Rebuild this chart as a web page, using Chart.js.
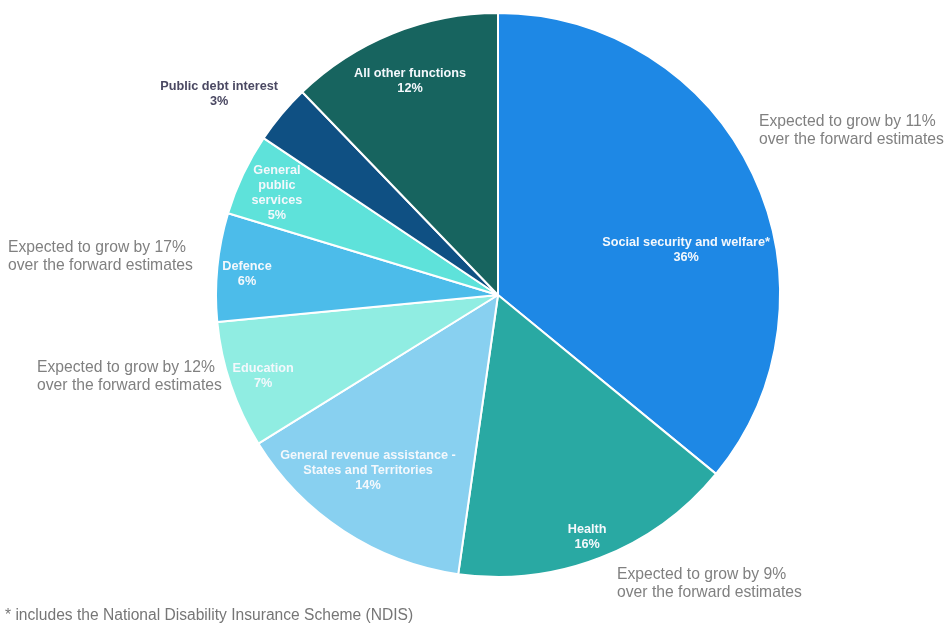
<!DOCTYPE html>
<html>
<head>
<meta charset="utf-8">
<script src="https://cdn.jsdelivr.net/npm/chart.js@4/dist/chart.umd.min.js"></script>
<style>
html,body{margin:0;padding:0;background:#fff;}
#wrap{position:relative;width:947px;height:625px;}
</style>
</head>
<body>
<div id="wrap"><canvas id="c" width="947" height="625"></canvas></div>
<script>
const categories = [
  "Social security and welfare*",
  "Health",
  "General revenue assistance - States and Territories",
  "Education",
  "Defence",
  "General public services",
  "Public debt interest",
  "All other functions"
];
const shareValues = [35.9, 16.3, 13.9, 7.3, 6.2, 4.7, 3.4, 12.2];
const shareLabels = ["36%", "16%", "14%", "7%", "6%", "5%", "3%", "12%"];
const labelLines = [
  ["Social security and welfare*"],
  ["Health"],
  ["General revenue assistance -", "States and Territories"],
  ["Education"],
  ["Defence"],
  ["General", "public", "services"],
  ["Public debt interest"],
  ["All other functions"]
];
const growthNotes = [
  ["Expected to grow by 11%", "over the forward estimates"],
  ["Expected to grow by 9%", "over the forward estimates"],
  ["Expected to grow by 12%", "over the forward estimates"],
  ["Expected to grow by 17%", "over the forward estimates"]
];
const footnote = "* includes the National Disability Insurance Scheme (NDIS)";

// styling / placement (not data)
const colors = ["#1E88E5","#29A9A3","#88D0F0","#90EDE2","#4CBCEA","#5EE2DA","#0F5083","#17645F"];
const labelPos = [[0.667,-0.16],[0.316,0.858],[-0.461,0.624],[-0.833,0.287],[-0.89,-0.074],[-0.784,-0.362],[-0.989,-0.713],[-0.312,-0.759]];
const labelColor = ["#f4f8fc","#f4f8fc","#f4f8fc","#f4f8fc","#f4f8fc","#f4f8fc","#4a4862","#f4f8fc"];
const notePos = [[759,122],[617,575],[37,368],[8,248]];

const labelPlugin = {
  id: 'labels',
  afterDatasetsDraw(chart) {
    const ctx = chart.ctx;
    const arc = chart.getDatasetMeta(0).data[0];
    const cx = arc.x, cy = arc.y, r = arc.outerRadius;
    ctx.save();
    ctx.textAlign = 'center';
    ctx.textBaseline = 'middle';
    ctx.font = 'bold 12.7px "Liberation Sans", Arial, sans-serif';
    const lh = 15;
    labelLines.forEach((lines, i) => {
      const all = lines.concat([shareLabels[i]]);
      const x = cx + labelPos[i][0] * r;
      const y0 = cy + labelPos[i][1] * r - (all.length - 1) * lh / 2;
      ctx.fillStyle = labelColor[i];
      all.forEach((t, k) => ctx.fillText(t, x, y0 + k * lh));
    });
    ctx.textAlign = 'left';
    ctx.font = '15.7px "Liberation Sans", Arial, sans-serif';
    ctx.fillStyle = '#808080';
    growthNotes.forEach((lines, i) => {
      lines.forEach((t, k) => ctx.fillText(t, notePos[i][0], notePos[i][1] + k * 17.5));
    });
    ctx.font = '15.6px "Liberation Sans", Arial, sans-serif';
    ctx.fillStyle = '#767676';
    ctx.fillText(footnote, 5, 616);
    ctx.restore();
  }
};

new Chart(document.getElementById('c'), {
  type: 'pie',
  data: {
    labels: categories,
    datasets: [{
      data: shareValues,
      backgroundColor: colors,
      borderColor: '#ffffff',
      borderWidth: 2
    }]
  },
  options: {
    responsive: false,
    animation: false,
    layout: { padding: { left: 215, right: 166, top: 12, bottom: 47 } },
    plugins: { legend: { display: false }, tooltip: { enabled: false } }
  },
  plugins: [labelPlugin]
});
</script>
</body>
</html>
